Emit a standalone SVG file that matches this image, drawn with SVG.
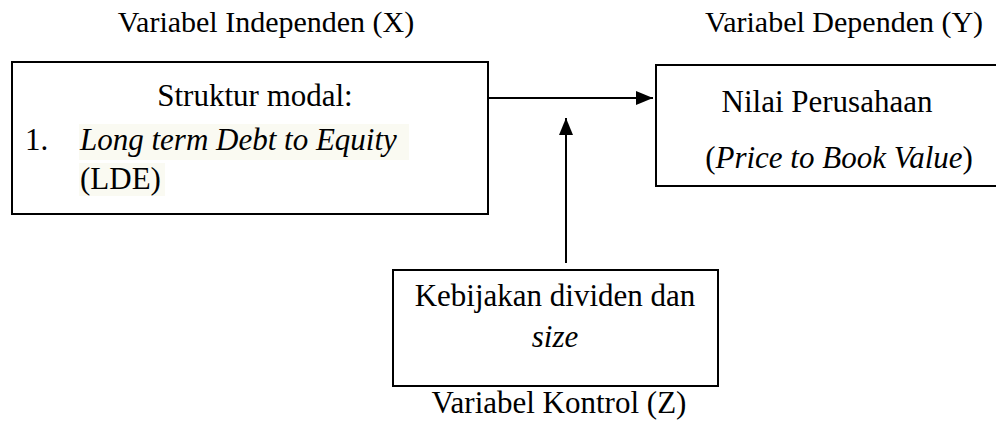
<svg xmlns="http://www.w3.org/2000/svg" width="996" height="425" viewBox="0 0 996 425">
<style>
text{font-family:"Liberation Serif","Times New Roman",serif;font-size:31px;fill:#000}
.h{font-size:30px}
.i{font-style:italic}
.box{fill:#fff;stroke:#000;stroke-width:2}
.hl{fill:#FAFAF2}
.ln{stroke:#000;stroke-width:2;fill:none}
</style>
<defs>
<marker id="ah2" markerWidth="17" markerHeight="14" refX="17" refY="7" orient="auto" markerUnits="userSpaceOnUse" viewBox="0 0 17 14">
<path d="M0,0 L17,7 L0,14 Z" fill="#000"/>
</marker>
</defs>
<g id="label-x"><text class="h" x="266" y="32" text-anchor="middle">Variabel Independen (X)</text></g>
<g id="label-y"><text class="h" x="844" y="32" text-anchor="middle">Variabel Dependen (Y)</text></g>
<g id="node-x">
<rect class="box" x="12" y="62" width="476" height="152"/>
<text x="255" y="106" text-anchor="middle">Struktur modal:</text>
<rect class="hl" x="79" y="124" width="330" height="36"/>
<rect class="hl" x="79" y="163" width="86" height="33"/>
<text x="25" y="150">1.</text>
<text x="80" y="150" class="i">Long term Debt to Equity</text>
<text x="80" y="189">(LDE)</text>
</g>
<g id="node-y">
<rect class="box" x="656" y="65" width="360" height="121"/>
<text x="827" y="112" text-anchor="middle">Nilai Perusahaan</text>
<text x="839" y="168" text-anchor="middle">(<tspan class="i">Price to Book Value</tspan>)</text>
</g>
<g id="node-z">
<rect class="box" x="393" y="270" width="325" height="116"/>
<text x="555" y="306" text-anchor="middle">Kebijakan dividen dan</text>
<text x="555" y="347" text-anchor="middle" class="i">size</text>
</g>
<g id="label-z"><text x="559" y="413" text-anchor="middle">Variabel Kontrol (Z)</text></g>
<g id="connectors">
<line class="ln" x1="488" y1="98" x2="653" y2="98" marker-end="url(#ah2)"/>
<line class="ln" x1="566" y1="263" x2="566" y2="118" marker-end="url(#ah2)"/>
</g>
</svg>
